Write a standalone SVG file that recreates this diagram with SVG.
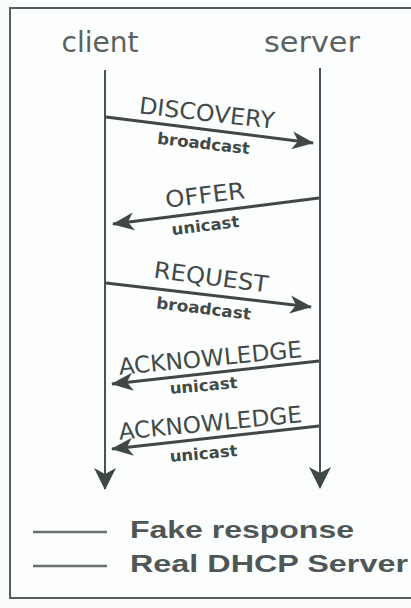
<svg xmlns="http://www.w3.org/2000/svg" width="411" height="608" viewBox="0 0 411 608">
  <style>
    .lane { stroke: #4a5351; stroke-width: 2; fill: none; }
    .msg { stroke: #3f4846; stroke-width: 3; fill: none; }
    .title { font-family: "DejaVu Sans", sans-serif; font-size: 28px; fill: #5a6361; text-anchor: middle; }
    .lbl { font-family: "DejaVu Sans", sans-serif; font-size: 23px; fill: #414a48; text-anchor: middle; }
    .sub { font-family: "DejaVu Sans", sans-serif; font-size: 16px; font-weight: bold; fill: #414a48; text-anchor: middle; }
    .leg { font-family: "Liberation Sans", Arial, sans-serif; font-size: 24px; font-weight: bold; fill: #4e5755; }
    .legline { stroke: #6a7270; stroke-width: 2.5; }
  </style>
  <defs>
    <marker id="head" markerUnits="userSpaceOnUse" markerWidth="24" markerHeight="20" viewBox="0 0 24 20" refX="21" refY="10" orient="auto">
      <path d="M0,1 L22,10 L0,19 L6,10 Z" fill="#3f4846"/>
    </marker>
    <marker id="lhead" markerUnits="userSpaceOnUse" markerWidth="24" markerHeight="24" viewBox="0 0 24 24" refX="21" refY="11" orient="auto">
      <path d="M0,0 L22,11 L0,22 L6,11 Z" fill="#3f4846"/>
    </marker>
  </defs>
  <rect x="0" y="0" width="411" height="608" fill="#fbfcfc"/>
  <rect x="10" y="8" width="420" height="590" fill="#fcfdfd" stroke="#555d5b" stroke-width="2"/>

  <g id="client">
    <text class="title" x="100" y="52" textLength="77" lengthAdjust="spacingAndGlyphs">client</text>
  </g>
  <g id="server">
    <text class="title" x="312" y="52" textLength="96" lengthAdjust="spacingAndGlyphs">server</text>
  </g>

  <g id="connectors">
    <line class="lane" x1="105" y1="70" x2="105" y2="489" marker-end="url(#lhead)"/>
    <line class="lane" x1="320" y1="68" x2="320" y2="488" marker-end="url(#lhead)"/>

    <g id="discovery">
      <line class="msg" x1="106" y1="117" x2="313" y2="143" marker-end="url(#head)"/>
      <text class="lbl" transform="translate(206,121) rotate(6.5)" textLength="136" lengthAdjust="spacingAndGlyphs">DISCOVERY</text>
      <text class="sub" transform="translate(203,149) rotate(6.5)" textLength="93" lengthAdjust="spacingAndGlyphs">broadcast</text>
    </g>
    <g id="offer">
      <line class="msg" x1="319" y1="198" x2="113" y2="224" marker-end="url(#head)"/>
      <text class="lbl" transform="translate(206,203) rotate(-7)" textLength="80" lengthAdjust="spacingAndGlyphs">OFFER</text>
      <text class="sub" transform="translate(206,231) rotate(-7)" textLength="68" lengthAdjust="spacingAndGlyphs">unicast</text>
    </g>
    <g id="request">
      <line class="msg" x1="106" y1="283" x2="311" y2="307" marker-end="url(#head)"/>
      <text class="lbl" transform="translate(210,285) rotate(7.5)" textLength="115" lengthAdjust="spacingAndGlyphs">REQUEST</text>
      <text class="sub" transform="translate(203,314) rotate(7)" textLength="95" lengthAdjust="spacingAndGlyphs">broadcast</text>
    </g>
    <g id="ack1">
      <line class="msg" x1="319" y1="361" x2="112" y2="384" marker-end="url(#head)"/>
      <text class="lbl" transform="translate(211,366) rotate(-5.5)" textLength="184" lengthAdjust="spacingAndGlyphs">ACKNOWLEDGE</text>
      <text class="sub" transform="translate(204,391) rotate(-5)" textLength="68" lengthAdjust="spacingAndGlyphs">unicast</text>
    </g>
    <g id="ack2">
      <line class="msg" x1="319" y1="426" x2="112" y2="449" marker-end="url(#head)"/>
      <text class="lbl" transform="translate(211,431) rotate(-5.5)" textLength="184" lengthAdjust="spacingAndGlyphs">ACKNOWLEDGE</text>
      <text class="sub" transform="translate(204,459) rotate(-5)" textLength="68" lengthAdjust="spacingAndGlyphs">unicast</text>
    </g>
  </g>

  <g id="legend">
    <line class="legline" x1="33" y1="532" x2="107" y2="532"/>
    <text class="leg" x="130" y="538" textLength="224" lengthAdjust="spacingAndGlyphs">Fake response</text>
    <line class="legline" x1="33" y1="566" x2="107" y2="566"/>
    <text class="leg" x="130" y="572" textLength="278" lengthAdjust="spacingAndGlyphs">Real DHCP Server</text>
  </g>
</svg>
